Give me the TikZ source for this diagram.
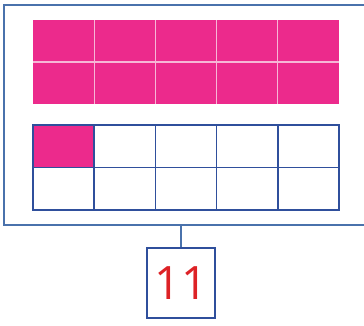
\documentclass[tikz,border=0pt]{standalone}
\usepackage{fontspec}
\setmainfont{Open Sans}
\definecolor{framec}{HTML}{4A72AC}
\definecolor{gridc}{HTML}{2F4F9C}
\definecolor{pinkc}{HTML}{EC2A8C}
\definecolor{sepc}{HTML}{F6B6D6}
\definecolor{numc}{HTML}{DD2226}
\begin{document}
\begin{tikzpicture}[x=1pt,y=-1pt,
  frame/.style={draw=framec,line width=1.6pt},
  pinkblock/.style={fill=pinkc},
  sepline/.style={draw=sepc,line width=1.3pt},
  gridline/.style={draw=gridc,line width=1.6pt},
  numbox/.style={draw=gridc,line width=1.6pt,minimum width=68pt,minimum height=70pt,inner sep=0pt,font=\fontsize{46}{46}\selectfont,text=numc}]
\useasboundingbox (0,0) rectangle (364,325);
\clip (0,0) rectangle (364,325);
\draw[frame] (4,5) rectangle (372,225);
\coordinate (fb) at (181,225);
% pink grid
\path[pinkblock] (33,20) rectangle (339,104);
\foreach \i in {1,...,4}{
  \path[sepline] ({33+\i*61.2},20) -- ({33+\i*61.2},104);
}
\path[sepline] (33,62) -- (339,62);
% blue grid
\path[fill=pinkc] (33,125) rectangle (94.2,167.5);
\foreach \i in {1,...,4}{
  \path[gridline] ({33+\i*61.2},125) -- ({33+\i*61.2},210);
}
\path[gridline] (33,167.5) -- (339,167.5);
\path[gridline] (33,125) rectangle (339,210);
\node[numbox] (n) at (181,283) {11};
\draw[frame] (n.north) -- (n.north |- fb);
\end{tikzpicture}
\end{document}
